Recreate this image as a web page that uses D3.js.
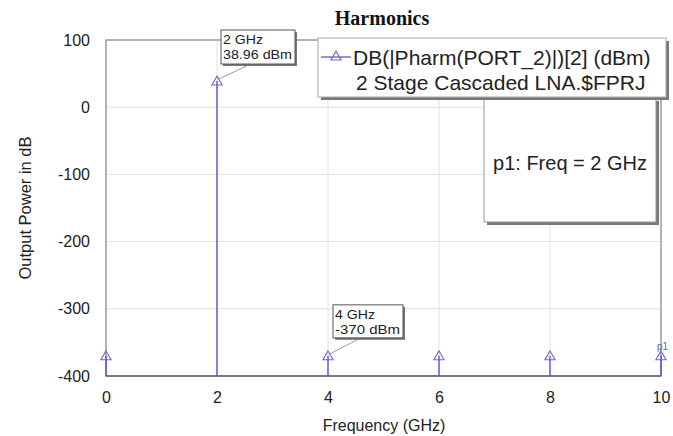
<!DOCTYPE html>
<html><head><meta charset="utf-8">
<script src="https://cdn.jsdelivr.net/npm/d3@7"></script>
<style>body{margin:0;background:#fff}svg{display:block}</style>
</head><body>
<script>
const freqs = [0, 2, 4, 6, 8, 10];
const power = [-370, 38.96, -370, -370, -370, -370];
const xTicks = [0, 2, 4, 6, 8, 10];
const yTicks = [100, 0, -100, -200, -300, -400];
const title = "Harmonics";
const legendLines = ["DB(|Pharm(PORT_2)|)[2] (dBm)", "2 Stage Cascaded LNA.$FPRJ"];
const markerNote = "p1: Freq = 2 GHz";
const markerLabels = [{f: 2, v: 38.96, lines: ["2 GHz", "38.96 dBm"]}, {f: 4, v: -370, lines: ["4 GHz", "-370 dBm"]}];

const W = 673, H = 436;
const L = 106, R = 661, T = 40, B = 376;
const svg = d3.select("body").append("svg").attr("width", W).attr("height", H);
const x = d3.scaleLinear().domain([0, 10]).range([L, R]);
const y = d3.scaleLinear().domain([-400, 100]).range([B, T]);
const font = "Liberation Sans, Arial, sans-serif";

// grid
svg.append("g").selectAll("line").data(xTicks).join("line")
  .attr("x1", d => x(d)).attr("x2", d => x(d)).attr("y1", T).attr("y2", B)
  .attr("stroke", "#e2e2e2").attr("stroke-width", 1);
svg.append("g").selectAll("line").data(yTicks).join("line")
  .attr("x1", L).attr("x2", R).attr("y1", d => y(d)).attr("y2", d => y(d))
  .attr("stroke", "#e2e2e2").attr("stroke-width", 1);

// frame
svg.append("rect").attr("x", L).attr("y", T).attr("width", R - L).attr("height", B - T)
  .attr("fill", "none").attr("stroke", "#8a8a8a").attr("stroke-width", 1.2);
svg.append("line").attr("x1", L).attr("x2", R).attr("y1", B).attr("y2", B)
  .attr("stroke", "#666").attr("stroke-width", 1.5);

// axes (labels only)
const xAxis = svg.append("g").attr("transform", `translate(0,${B})`)
  .call(d3.axisBottom(x).tickValues(xTicks).tickSize(0).tickPadding(16).tickFormat(d => String(d)));
const yAxis = svg.append("g").attr("transform", `translate(${L},0)`)
  .call(d3.axisLeft(y).tickValues(yTicks).tickSize(0).tickPadding(16).tickFormat(d => String(d)));
[xAxis, yAxis].forEach(a => {
  a.select(".domain").remove();
  a.selectAll("text").attr("font-family", font).attr("font-size", 16).attr("fill", "#222");
});

// titles
svg.append("text").attr("x", 382).attr("y", 25).attr("text-anchor", "middle")
  .attr("font-family", "Liberation Serif, Times New Roman, serif").attr("font-weight", "bold")
  .attr("font-size", 20).attr("fill", "#111").text(title);
svg.append("text").attr("x", 384).attr("y", 431).attr("text-anchor", "middle")
  .attr("font-family", font).attr("font-size", 16).attr("fill", "#222").text("Frequency (GHz)");
svg.append("text").attr("transform", `translate(31,${(T + B) / 2}) rotate(-90)`)
  .attr("text-anchor", "middle").attr("font-family", font).attr("font-size", 16.5)
  .attr("fill", "#222").text("Output Power in dB");

// stems
const data = freqs.map((f, i) => ({f, v: power[i]}));
svg.append("g").selectAll("line").data(data).join("line")
  .attr("x1", d => x(d.f)).attr("x2", d => x(d.f)).attr("y1", B).attr("y2", d => y(d.v))
  .attr("stroke", "#4a4acc").attr("stroke-width", 1.3);

// markers
const tri = d3.symbol().type(d3.symbolTriangle).size(45);
svg.append("g").selectAll("path").data(data).join("path")
  .attr("d", tri).attr("transform", d => `translate(${x(d.f)},${y(d.v) + 1})`)
  .attr("fill", "none").attr("stroke", "#6a6acc").attr("stroke-width", 1.1);
svg.append("text").attr("x", x(10) - 4).attr("y", y(-370) - 6)
  .attr("font-family", font).attr("font-size", 10).attr("fill", "#6a6a99").text("p1");

// marker label boxes
const boxOff = [{dx: 4, dy: -51, w: 74, h: 34}, {dx: 5, dy: -51, w: 70, h: 33}];
markerLabels.forEach((m, i) => {
  const px = x(m.f), py = y(m.v), o = boxOff[i];
  const bx = px + o.dx, by = py + o.dy;
  svg.append("line").attr("x1", px + 2).attr("y1", py - 2).attr("x2", bx + o.w * 0.4).attr("y2", by + o.h)
    .attr("stroke", "#9a9a9a").attr("stroke-width", 1);
  svg.append("rect").attr("x", bx + 2).attr("y", by + 2).attr("width", o.w).attr("height", o.h).attr("fill", "#777");
  svg.append("rect").attr("x", bx).attr("y", by).attr("width", o.w).attr("height", o.h)
    .attr("fill", "#fff").attr("stroke", "#555").attr("stroke-width", 1);
  m.lines.forEach((t, j) => svg.append("text").attr("x", bx + 2).attr("y", by + 14 + j * 15)
    .attr("font-family", font).attr("font-size", 13).attr("fill", "#222")
    .attr("textLength", t.length > 6 ? o.w - 5 : 40).attr("lengthAdjust", "spacingAndGlyphs").text(t));
});

// note box
svg.append("rect").attr("x", 487).attr("y", 101).attr("width", 172).attr("height", 124).attr("fill", "#777");
svg.append("rect").attr("x", 484).attr("y", 98).attr("width", 172).attr("height", 124)
  .attr("fill", "#fff").attr("stroke", "#999").attr("stroke-width", 1);
svg.append("text").attr("x", 570).attr("y", 170).attr("text-anchor", "middle")
  .attr("font-family", font).attr("font-size", 20).attr("fill", "#222").text(markerNote);

// legend box
svg.append("rect").attr("x", 321).attr("y", 41).attr("width", 348).attr("height", 59).attr("fill", "#777");
svg.append("rect").attr("x", 318).attr("y", 38).attr("width", 348).attr("height", 59)
  .attr("fill", "#fff").attr("stroke", "#aaa").attr("stroke-width", 1);
svg.append("line").attr("x1", 321).attr("x2", 351).attr("y1", 57).attr("y2", 57)
  .attr("stroke", "#4a4acc").attr("stroke-width", 1.2);
svg.append("path").attr("d", tri).attr("transform", "translate(336,57)")
  .attr("fill", "none").attr("stroke", "#6a6acc").attr("stroke-width", 1.1);
legendLines.forEach((t, j) => svg.append("text").attr("x", j === 0 ? 353 : 356).attr("y", 65 + j * 25)
  .attr("font-family", font).attr("font-size", 21).attr("fill", "#222").text(t));
</script>
</body></html>
